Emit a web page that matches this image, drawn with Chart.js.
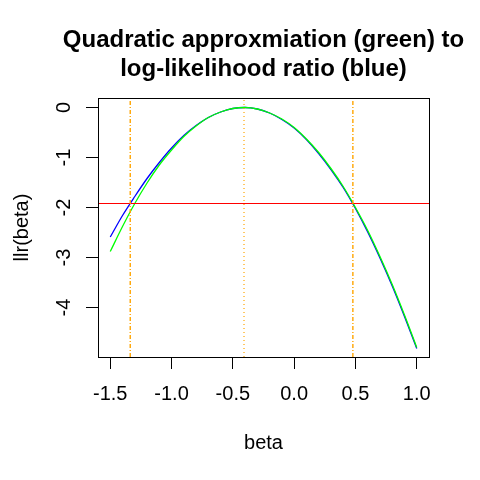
<!DOCTYPE html>
<html>
<head>
<meta charset="utf-8">
<script src="https://cdn.jsdelivr.net/npm/chart.js@4/dist/chart.umd.min.js"></script>
<style>
    body { margin: 0; background: #fff; }
    #llr-chart { display: block; }
</style>
</head>
<body>
<canvas id="llr-chart" width="480" height="480"></canvas>
<script>
// values
var betaGrid = [-1.5, -1.4, -1.3, -1.2, -1.1, -1.0, -0.9, -0.8, -0.7, -0.6, -0.5, -0.4, -0.3,
                -0.2, -0.1, 0.0, 0.1, 0.2, 0.3, 0.4, 0.5, 0.6, 0.7, 0.8, 0.9, 1.0];
var llrValues = [-2.59, -2.16, -1.78, -1.42, -1.10, -0.81, -0.56, -0.36, -0.20, -0.09, -0.02, 0.00, -0.03,
                 -0.11, -0.24, -0.41, -0.64, -0.92, -1.24, -1.60, -2.02, -2.49, -3.01, -3.57, -4.18, -4.82];
var quadValues = [-2.88, -2.38, -1.92, -1.51, -1.15, -0.85, -0.58, -0.37, -0.20, -0.09, -0.02, 0.00, -0.03,
                  -0.11, -0.23, -0.40, -0.63, -0.90, -1.22, -1.58, -2.00, -2.46, -2.98, -3.54, -4.15, -4.80];
var cutoff = -1.92;
var mle = -0.409;
var ciLower = -1.337;
var ciUpper = 0.479;
var xTicks = [-1.5, -1.0, -0.5, 0.0, 0.5, 1.0];
var yTicks = [-4, -3, -2, -1, 0];
var xLimits = [-1.6, 1.1];
var yLimits = [-4.99, 0.19];

var fontFamily = '"Liberation Sans", Arial, Helvetica, sans-serif';

function toPoints(xs, ys) {
    var pts = [];
    for (var i = 0; i < xs.length; i++) {
        pts.push({ x: xs[i], y: ys[i] });
    }
    return pts;
}

function vline(x) {
    return [{ x: x, y: yLimits[0] }, { x: x, y: yLimits[1] }];
}

// R centres the main title over the plot region, not the whole device
var centreTitle = {
    id: 'centreTitle',
    afterLayout: function (chart) {
        var tb = chart.titleBlock;
        if (!tb) return;
        var a = chart.chartArea;
        var c = (a.left + a.right) / 2;
        var half = Math.min(c, chart.width - c);
        tb.left = c - half;
        tb.right = c + half;
    }
};

var plotBox = {
    id: 'plotBox',
    afterDraw: function (chart) {
        var a = chart.chartArea;
        var ctx = chart.ctx;
        ctx.save();
        ctx.strokeStyle = '#000';
        ctx.lineWidth = 1;
        ctx.strokeRect(Math.round(a.left) + 0.5, Math.round(a.top) + 0.5,
            Math.round(a.right - a.left), Math.round(a.bottom - a.top));
        ctx.restore();
    }
};

var ctx = document.getElementById('llr-chart').getContext('2d');
var myChart = new Chart(ctx, {
    type: 'scatter',
    data: {
        // order: larger numbers are drawn first, so green ends up over blue like in R
        datasets: [{
            data: toPoints(betaGrid, llrValues),
            borderColor: '#0000ff',
            borderWidth: 1.3,
            showLine: true,
            pointRadius: 0,
            cubicInterpolationMode: 'monotone',
            order: 6
        },
        {
            data: toPoints(betaGrid, quadValues),
            borderColor: '#00ff00',
            borderWidth: 1.3,
            showLine: true,
            pointRadius: 0,
            cubicInterpolationMode: 'monotone',
            order: 5
        },
        {
            data: [{ x: xLimits[0], y: cutoff }, { x: xLimits[1], y: cutoff }],
            borderColor: '#ff0000',
            borderWidth: 1,
            showLine: true,
            pointRadius: 0,
            order: 4
        },
        {
            data: vline(ciLower),
            borderColor: '#ffa500',
            borderWidth: 1.4,
            borderDash: [4, 2, 1, 2],
            showLine: true,
            pointRadius: 0,
            order: 3
        },
        {
            data: vline(mle),
            borderColor: '#ffa500',
            borderWidth: 1.2,
            borderDash: [1, 3],
            showLine: true,
            pointRadius: 0,
            order: 2
        },
        {
            data: vline(ciUpper),
            borderColor: '#ffa500',
            borderWidth: 1.4,
            borderDash: [4, 2, 1, 2],
            showLine: true,
            pointRadius: 0,
            order: 1
        }]
    },
    options: {
        responsive: false,
        animation: false,
        devicePixelRatio: 1,
        layout: { padding: { left: 10, right: 51, top: 0, bottom: 25 } },
        plugins: {
            legend: { display: false },
            tooltip: { enabled: false },
            title: {
                display: true,
                text: ['Quadratic approxmiation (green) to', 'log-likelihood ratio (blue)'],
                color: '#000',
                font: { family: fontFamily, size: 24, weight: 'bold', lineHeight: 1.2 },
                padding: { top: 26, bottom: 14.4 }
            }
        },
        scales: {
            x: {
                type: 'linear',
                min: xLimits[0],
                max: xLimits[1],
                afterBuildTicks: function (scale) {
                    scale.ticks = xTicks.map(function (v) { return { value: v }; });
                },
                afterFit: function (scale) { scale.height = 98; },
                grid: { drawOnChartArea: false, drawTicks: true, tickLength: 12, color: '#000' },
                border: { display: true, color: '#000' },
                ticks: {
                    color: '#000',
                    padding: 13,
                    maxRotation: 0,
                    font: { family: fontFamily, size: 20 },
                    callback: function (v) { return Number(v).toFixed(1); }
                },
                title: {
                    display: true,
                    text: 'beta',
                    color: '#000',
                    padding: 0,
                    font: { family: fontFamily, size: 20 }
                }
            },
            y: {
                type: 'linear',
                min: yLimits[0],
                max: yLimits[1],
                afterBuildTicks: function (scale) {
                    scale.ticks = yTicks.map(function (v) { return { value: v }; });
                },
                afterFit: function (scale) { scale.width = 88; },
                grid: { drawOnChartArea: false, drawTicks: true, tickLength: 12, color: '#000' },
                border: { display: true, color: '#000' },
                ticks: {
                    color: '#000',
                    padding: 13,
                    minRotation: 90,
                    maxRotation: 90,
                    crossAlign: 'center',
                    font: { family: fontFamily, size: 20 },
                    callback: function (v) { return String(v); }
                },
                title: {
                    display: true,
                    text: 'llr(beta)',
                    color: '#000',
                    padding: 0,
                    font: { family: fontFamily, size: 20 }
                }
            }
        }
    },
    plugins: [centreTitle, plotBox]
});
</script>
</body>
</html>
